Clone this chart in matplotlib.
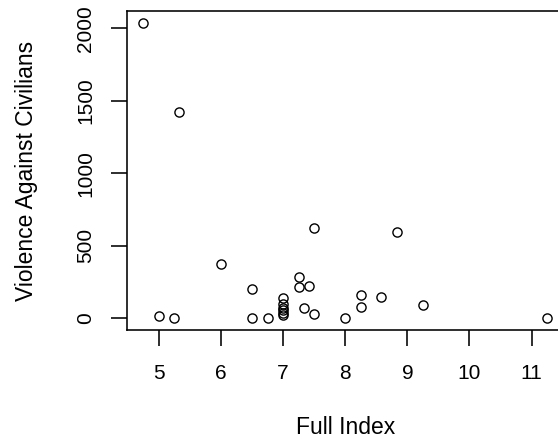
import matplotlib
matplotlib.use("Agg")
import matplotlib.pyplot as plt

# Data
full_index = [4.75, 5.33, 5.0, 5.25, 6.0, 6.5, 6.5, 6.75,
              7.0, 7.0, 7.0, 7.0, 7.0, 7.0,
              7.25, 7.25, 7.42, 7.5, 7.33, 7.5,
              8.0, 8.25, 8.25, 8.58, 8.83, 9.25, 11.25]
violence = [2040, 1420, 18, 0, 375, 200, 5, 0,
            140, 100, 75, 55, 35, 20,
            285, 215, 225, 620, 70, 30,
            5, 160, 80, 150, 595, 95, 5]
x_ticks = [5, 6, 7, 8, 9, 10, 11]
y_ticks = [0, 500, 1000, 1500, 2000]
x_label = "Full Index"
y_label = "Violence Against Civilians"

plt.rcParams['font.family'] = ['Liberation Sans', 'DejaVu Sans']
TICK_FS = 15
LABEL_FS = 16.5

fig = plt.figure(figsize=(5.58, 4.41), dpi=100)
ax = fig.add_axes([0.2281, 0.2512, 0.7813, 0.7245])

ax.plot(full_index, violence, linestyle='none', marker='o', markersize=6.6,
        markerfacecolor='none', markeredgecolor='black', markeredgewidth=1.0)

xmin, xmax = min(full_index), max(full_index)
ymin, ymax = min(violence), max(violence)
xp = 0.04 * (xmax - xmin)
yp = 0.04 * (ymax - ymin)
ax.set_xlim(xmin - xp, xmax + xp)
ax.set_ylim(ymin - yp, ymax + yp)

ax.set_xticks(x_ticks)
ax.set_xticklabels([str(t) for t in x_ticks])
ax.set_yticks(y_ticks)
ax.set_yticklabels([str(t) for t in y_ticks])

for s in ax.spines.values():
    s.set_linewidth(1.15)
    s.set_color('black')

ax.tick_params(axis='both', direction='out', length=11.3, width=1.15,
               labelsize=TICK_FS, colors='black')
ax.tick_params(axis='x', pad=13)
ax.tick_params(axis='y', pad=11.7)
for lab in ax.get_yticklabels():
    lab.set_rotation(90)
    lab.set_va('center')
    lab.set_ha('right')

ax.set_xlabel(x_label, fontsize=LABEL_FS)
ax.set_ylabel(y_label, fontsize=LABEL_FS)
ax.xaxis.set_label_coords(0.5, -0.27)
ax.xaxis.label.set_va('top')
ax.yaxis.set_label_coords(-0.205, 0.5)

fig.savefig("out.png", dpi=100)
